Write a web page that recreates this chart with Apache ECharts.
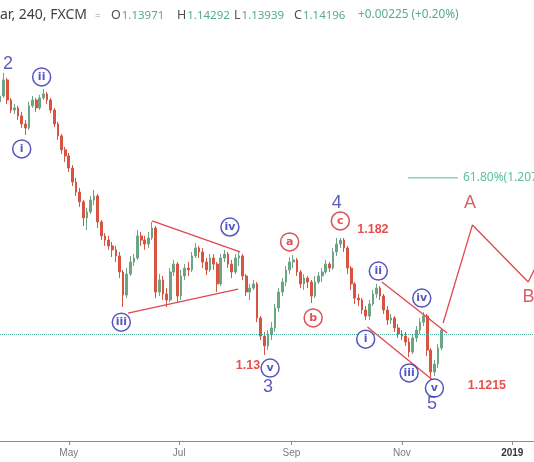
<!DOCTYPE html>
<html><head><meta charset="utf-8">
<script src="https://cdn.jsdelivr.net/npm/echarts@6/dist/echarts.min.js"></script>
<style>html,body{margin:0;padding:0;background:#fff}#c{width:534px;height:462px}</style>
</head><body><div id="c"></div>
<script>
// ---------- data ----------
const candleStart = '2018-03-24';
const candleStepDays = 2;
// [open, close, low, high]
const candles = [
[1.2399,1.2424,1.2390,1.2442],[1.2424,1.2493,1.2416,1.2523],[1.2493,1.2407,1.2390,1.2502],[1.2407,1.2364,1.2351,1.2416],
[1.2364,1.2373,1.2347,1.2390],[1.2373,1.2339,1.2321,1.2382],[1.2339,1.2304,1.2287,1.2356],[1.2304,1.2287,1.2257,1.2321],
[1.2287,1.2382,1.2279,1.2399],[1.2382,1.2407,1.2373,1.2424],[1.2407,1.2373,1.2356,1.2416],[1.2373,1.2416,1.2364,1.2429],
[1.2416,1.2433,1.2407,1.2454],[1.2433,1.2407,1.2390,1.2442],[1.2407,1.2364,1.2351,1.2416],[1.2364,1.2304,1.2291,1.2373],
[1.2304,1.2253,1.2236,1.2313],[1.2253,1.2193,1.2175,1.2261],[1.2193,1.2167,1.2141,1.2206],[1.2167,1.2115,1.2098,1.2180],
[1.2115,1.2055,1.2038,1.2128],[1.2055,1.2012,1.1995,1.2073],[1.2012,1.1970,1.1948,1.2030],[1.1970,1.1901,1.1866,1.1978],
[1.1901,1.1927,1.1849,1.1944],[1.1927,1.1978,1.1918,1.1995],[1.1978,1.1995,1.1957,1.2021],[1.1995,1.1884,1.1858,1.2004],
[1.1884,1.1824,1.1806,1.1892],[1.1824,1.1806,1.1781,1.1836],[1.1806,1.1781,1.1764,1.1824],[1.1781,1.1764,1.1733,1.1798],
[1.1764,1.1738,1.1712,1.1781],[1.1738,1.1669,1.1643,1.1755],[1.1669,1.1570,1.1519,1.1678],[1.1570,1.1660,1.1557,1.1686],
[1.1660,1.1712,1.1652,1.1738],[1.1712,1.1729,1.1695,1.1746],[1.1729,1.1824,1.1721,1.1849],[1.1824,1.1806,1.1781,1.1841],
[1.1806,1.1789,1.1764,1.1824],[1.1789,1.1815,1.1772,1.1841],[1.1815,1.1858,1.1806,1.1884],[1.1858,1.1583,1.1557,1.1866],
[1.1583,1.1635,1.1566,1.1660],[1.1635,1.1575,1.1549,1.1652],[1.1575,1.1549,1.1519,1.1600],[1.1549,1.1669,1.1540,1.1686],
[1.1669,1.1703,1.1652,1.1721],[1.1703,1.1566,1.1540,1.1712],[1.1566,1.1652,1.1549,1.1678],[1.1652,1.1686,1.1635,1.1703],
[1.1686,1.1678,1.1652,1.1712],[1.1678,1.1738,1.1669,1.1755],[1.1738,1.1772,1.1729,1.1794],[1.1772,1.1755,1.1729,1.1781],
[1.1755,1.1712,1.1686,1.1772],[1.1712,1.1678,1.1656,1.1729],[1.1678,1.1729,1.1669,1.1746],[1.1729,1.1703,1.1678,1.1746],
[1.1703,1.1618,1.1583,1.1712],[1.1618,1.1729,1.1609,1.1746],[1.1729,1.1746,1.1712,1.1764],[1.1746,1.1703,1.1686,1.1755],
[1.1703,1.1669,1.1643,1.1721],[1.1669,1.1729,1.1660,1.1746],[1.1729,1.1738,1.1695,1.1755],[1.1738,1.1652,1.1635,1.1746],
[1.1652,1.1583,1.1566,1.1660],[1.1583,1.1600,1.1549,1.1618],[1.1600,1.1618,1.1592,1.1635],[1.1618,1.1472,1.1454,1.1626],
[1.1472,1.1394,1.1377,1.1480],[1.1394,1.1352,1.1313,1.1412],[1.1352,1.1403,1.1334,1.1420],[1.1403,1.1429,1.1377,1.1454],
[1.1429,1.1515,1.1412,1.1532],[1.1515,1.1583,1.1497,1.1600],[1.1583,1.1626,1.1566,1.1643],[1.1626,1.1678,1.1609,1.1695],
[1.1678,1.1712,1.1660,1.1733],[1.1712,1.1721,1.1686,1.1742],[1.1721,1.1669,1.1652,1.1729],[1.1669,1.1618,1.1600,1.1678],
[1.1618,1.1643,1.1592,1.1660],[1.1643,1.1626,1.1600,1.1652],[1.1626,1.1566,1.1536,1.1635],[1.1566,1.1626,1.1557,1.1652],
[1.1626,1.1652,1.1618,1.1669],[1.1652,1.1669,1.1626,1.1686],[1.1669,1.1703,1.1660,1.1721],[1.1703,1.1686,1.1669,1.1712],
[1.1686,1.1755,1.1678,1.1772],[1.1755,1.1789,1.1738,1.1815],[1.1789,1.1806,1.1772,1.1815],[1.1806,1.1772,1.1755,1.1815],
[1.1772,1.1686,1.1660,1.1781],[1.1686,1.1618,1.1592,1.1695],[1.1618,1.1557,1.1532,1.1626],[1.1557,1.1549,1.1523,1.1575],
[1.1549,1.1506,1.1489,1.1557],[1.1506,1.1480,1.1463,1.1523],[1.1480,1.1532,1.1463,1.1549],[1.1532,1.1575,1.1523,1.1592],
[1.1575,1.1600,1.1557,1.1618],[1.1600,1.1566,1.1549,1.1609],[1.1566,1.1506,1.1489,1.1575],[1.1506,1.1463,1.1442,1.1523],
[1.1463,1.1472,1.1446,1.1489],[1.1472,1.1429,1.1412,1.1480],[1.1429,1.1403,1.1386,1.1446],[1.1403,1.1394,1.1377,1.1420],
[1.1394,1.1369,1.1352,1.1412],[1.1369,1.1326,1.1304,1.1386],[1.1326,1.1386,1.1317,1.1403],[1.1386,1.1420,1.1369,1.1437],
[1.1420,1.1454,1.1403,1.1472],[1.1454,1.1480,1.1437,1.1497],[1.1480,1.1334,1.1308,1.1489],[1.1334,1.1240,1.1214,1.1343],
[1.1240,1.1274,1.1223,1.1291],[1.1274,1.1343,1.1257,1.1360],[1.1343,1.14196,1.1334,1.14292]
];
const xRange = ['2018-03-24', '2019-01-13'];
const yRange = [1.0944, 1.2836];
const tickDates = ['2018-05-01', '2018-07-01', '2018-09-01', '2018-11-01', '2019-01-01'];
const tickLabels = ['May', 'Jul', 'Sep', 'Nov', '2019'];
const lastClose = 1.14196;

const headerSymbol = 'ar, 240, FXCM';
const headerKeys = ['O', 'H', 'L', 'C'];
const headerValues = ['1.13971', '1.14292', '1.13939', '1.14196'];
const headerChange = '+0.00225 (+0.20%)';

const blueCircles = [
  ['i', '2018-04-05', 1.2197], ['ii', '2018-04-16', 1.2506], ['iii', '2018-05-30', 1.1454],
  ['iv', '2018-07-29', 1.1862], ['v', '2018-08-20 05:00', 1.1257],
  ['i', '2018-10-12', 1.1381], ['ii', '2018-10-19', 1.1673], ['iii', '2018-11-05', 1.1236],
  ['iv', '2018-11-12', 1.1557], ['v', '2018-11-19', 1.1171]
];
const redCircles = [['a', '2018-08-31', 1.1798], ['b', '2018-09-13', 1.1472], ['c', '2018-09-28', 1.1888]];
const waveNumbers = [['2', '2018-03-28 10:00', 1.2562], ['3', '2018-08-19', 1.1176], ['4', '2018-09-26', 1.1965], ['5', '2018-11-17 17:00', 1.1102]];
const waveLetters = [['A', '2018-12-08 17:00', 1.1965], ['B', '2019-01-10', 1.1562]];
const priceNotes = [['1.13', '2018-08-08', 1.1266], ['1.182', '2018-10-16', 1.1853], ['1.1215', '2018-12-18', 1.1184]];

const triangleUpper = [['2018-06-16', 1.1888], ['2018-08-03 14:00', 1.1755]];
const triangleLower = [['2018-06-02 17:00', 1.1493], ['2018-08-02 12:00', 1.1596]];
const channelUpper = [['2018-10-21', 1.1626], ['2018-11-26', 1.1407]];
const channelLower = [['2018-10-13', 1.1433], ['2018-11-18', 1.1206]];
const projection = [['2018-11-23 19:00', 1.1450], ['2018-12-10', 1.1871], ['2019-01-09 19:00', 1.1626], ['2019-01-19', 1.1772]];
const fibLine = [['2018-11-04 12:00', 1.2073], ['2018-12-02', 1.2073]];
const fibText = '61.80%(1.2073)';

// ---------- helpers ----------
function ts(s) {
  const parts = s.split(' ');
  const d = parts[0].split('-').map(Number);
  let H = 0, M = 0;
  if (parts[1]) { const t = parts[1].split(':').map(Number); H = t[0]; M = t[1]; }
  return new Date(d[0], d[1] - 1, d[2], H, M).getTime();
}
const DAY = 86400000;
const t0 = ts(candleStart);
const candleData = candles.map((c, i) => [t0 + i * candleStepDays * DAY, c[0], c[1], c[2], c[3]]);
const tickValues = tickDates.map(ts);
const pts = arr => arr.map(p => [ts(p[0]), p[1]]);
const named = arr => arr.map(p => ({ name: p[0], value: [ts(p[1]), p[2]] }));

const BLUE = '#2a2ab4';
const RED = '#d3262e';
const LINE_RED = '#e2464e';
const TEAL = '#4fb99a';
const GREEN_TXT = '#55ab8a';
const UP = '#6ba583';
const DOWN = '#d75442';

function trend(data, color) {
  return { type: 'line', data: pts(data), symbol: 'none', silent: true, z: 5,
    lineStyle: { color: color || LINE_RED, width: 1.3 }, clip: true };
}
function circles(data, color) {
  return { type: 'scatter', data: named(data), symbol: 'circle', symbolSize: 18, z: 10, silent: true,
    itemStyle: { color: '#fff', borderColor: color, borderWidth: 1.5 },
    label: { show: true, position: 'inside', formatter: p => p.name, color: color,
      fontFamily: 'DejaVu Sans', fontWeight: 'bold', fontSize: 11 } };
}
function texts(data, color, size, weight, family) {
  return { type: 'scatter', data: named(data), symbol: 'circle', symbolSize: 1, z: 10, silent: true,
    itemStyle: { color: 'rgba(0,0,0,0)' },
    label: { show: true, position: 'inside', formatter: p => p.name, color: color,
      fontFamily: family || 'Liberation Sans', fontWeight: weight || 'normal', fontSize: size } };
}

const chart = echarts.init(document.getElementById('c'), null, { renderer: 'canvas' });

const headerTitles = [
  { text: headerSymbol, left: 0, top: 8, padding: 0, textStyle: { color: '#404040', fontSize: 14, fontWeight: 'normal', fontFamily: 'Noto Sans' } },
  { text: '=', left: 95, top: 11, padding: 0, textStyle: { color: '#c8c8c8', fontSize: 10, fontWeight: 'normal', fontFamily: 'Noto Sans' } }
];
const headerLefts = [111, 177, 234, 294];
headerKeys.forEach((k, i) => {
  headerTitles.push({ text: '{k|' + k + '}{v|' + headerValues[i] + '}', left: headerLefts[i], top: 9, padding: 0,
    textStyle: { fontSize: 11.5, fontWeight: 'normal', rich: {
      k: { color: '#505050', fontSize: 12.5, fontWeight: 'normal', fontFamily: 'Noto Sans', padding: [0, 1, 0, 0] },
      v: { color: GREEN_TXT, fontSize: 11.5, fontWeight: 'normal', fontFamily: 'Noto Sans' } } } });
});
headerTitles.push({ text: headerChange, left: 358, top: 9, padding: 0, textStyle: { color: GREEN_TXT, fontSize: 11.8, fontWeight: 'normal', fontFamily: 'Noto Sans' } });

chart.setOption({
  animation: false,
  backgroundColor: '#ffffff',
  title: headerTitles,
  grid: { left: 0, right: 0, top: 0, bottom: 21, containLabel: false, outerBoundsMode: 'none' },
  xAxis: {
    type: 'value', min: ts(xRange[0]), max: ts(xRange[1]), scale: true,
    axisLine: { show: true, onZero: false, lineStyle: { color: '#8c8c8c', width: 1 } },
    axisTick: { show: true, customValues: tickValues, length: 4, lineStyle: { color: '#8c8c8c' } },
    splitLine: { show: false },
    axisLabel: {
      customValues: tickValues, margin: 7, color: '#7a7a7a', fontSize: 10, fontFamily: 'Liberation Sans',
      formatter: function (v) {
        const i = tickValues.indexOf(v);
        const s = i >= 0 ? tickLabels[i] : '';
        return /^\d{4}$/.test(s) ? '{b|' + s + '}' : s;
      },
      rich: { b: { color: '#333', fontWeight: 'bold', fontSize: 10, fontFamily: 'Liberation Sans' } }
    }
  },
  yAxis: { type: 'value', min: yRange[0], max: yRange[1], show: false, scale: true, splitLine: { show: false } },
  series: [
    {
      type: 'candlestick', data: candleData, barWidth: 2.2, z: 3, silent: true,
      itemStyle: { color: UP, color0: DOWN, borderColor: UP, borderColor0: DOWN, borderWidth: 1 },
      markLine: { silent: true, symbol: 'none', label: { show: false },
        lineStyle: { type: 'dotted', color: '#4fae98', width: 1 }, data: [{ yAxis: lastClose }] }
    },
    trend(triangleUpper), trend(triangleLower), trend(channelUpper), trend(channelLower), trend(projection),
    { type: 'line', data: pts(fibLine), symbol: 'none', silent: true, z: 5, lineStyle: { color: TEAL, width: 1 },
      endLabel: { show: true, formatter: fibText, color: '#5cc0a0', fontSize: 12, fontFamily: 'Noto Sans', distance: 5 } },
    circles(blueCircles, BLUE),
    circles(redCircles, RED),
    texts(waveNumbers, '#3434a8', 18),
    texts(waveLetters, '#d03842', 18),
    texts(priceNotes, '#e3201f', 12.5, 'bold', 'Liberation Sans')
  ]
});
</script>
</body></html>
